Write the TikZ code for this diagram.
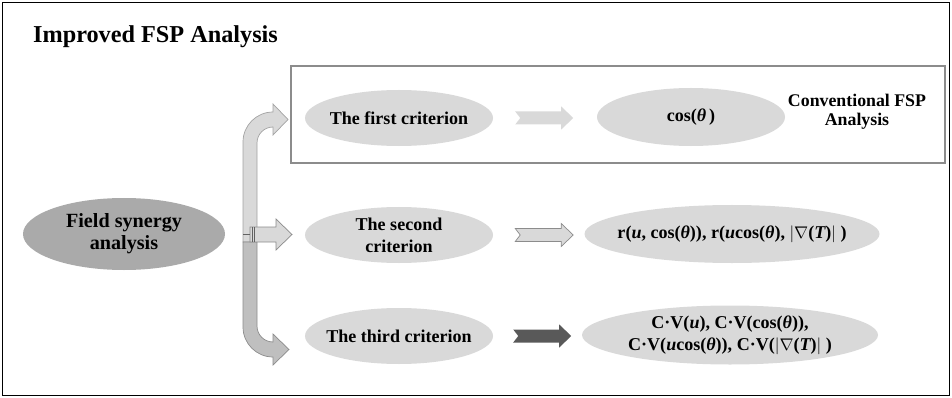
\documentclass[tikz,border=0pt]{standalone}
\usepackage{fontspec}
\setmainfont{Liberation Serif}
\usepackage{tikz}
\usetikzlibrary{shapes.geometric,calc}

\definecolor{lightfill}{HTML}{D9D9D9}
\definecolor{midfill}{HTML}{BFBFBF}
\definecolor{darkfill}{HTML}{AAAAAA}
\definecolor{arrowdark}{HTML}{595959}
\definecolor{edgegray}{HTML}{8C8C8C}

% block arrow with notched tail, pointing right
\newcommand{\blockarrow}[2]{%
  \path[#1] (#2) ++(0,-6.5) -- ++(46,0) -- ++(0,-5) -- ++(12,11.5) -- ++(-12,11.5)
    -- ++(0,-5) -- ++(-46,0) -- ++(5,-6.5) -- cycle;}

\begin{document}
\begin{tikzpicture}[x=0.03cm,y=-0.03cm,
  bubble/.style={ellipse, fill=lightfill, inner xsep=-20pt, inner ysep=-8pt,
    align=center, font=\fontsize{15.4}{18.8}\selectfont\bfseries},
  crit/.style={bubble, minimum width=5.64cm, minimum height=1.68cm},
  result/.style={bubble, minimum height=1.74cm}]

	\useasboundingbox (0,0) rectangle (952,398);

	% frames

	\draw[line width=1pt] (2.5,2.5) rectangle (949.5,395.5);
	\draw[edgegray, line width=1.5pt] (291,66) rectangle (945,163);

	\node[anchor=base west, font=\fontsize{20.7}{24}\selectfont\bfseries] (title) at (29,43) {Improved FSP Analysis};

	% nodes

	\node[bubble, fill=darkfill, minimum width=6.06cm, minimum height=2.16cm,
	      font=\fontsize{17.2}{18.8}\selectfont\bfseries] (fsa) at (124,234) {Field synergy\\analysis};

	\node[crit] (crit1) at (399,118) {The first criterion};
	\node[crit] (crit2) at (399,235) {The second\\criterion};
	\node[crit] (crit3) at (399,336) {The third criterion};

	\node[result, minimum width=5.64cm] (res1) at (691,117) {cos({\itshape θ}\,)};
	\node[result, minimum width=8.85cm] (res2) at (732,234)
	  {r({\itshape u}, cos({\itshape θ})), r({\itshape u}cos({\itshape θ}), $|\nabla$({\itshape T})$|$ )};
	\node[result, minimum width=8.88cm, minimum height=1.77cm] (res3) at (730,335)
	  {C·V({\itshape u}), C·V(cos({\itshape θ})),\\C·V({\itshape u}cos({\itshape θ})), C·V($|\nabla$({\itshape T})$|$ )};

	\node[align=center, font=\fontsize{15.2}{16.5}\selectfont\bfseries] (conv) at (857,112) {Conventional FSP\\Analysis};

	% bracket arrow

	\path[fill=lightfill, draw=edgegray!80, line width=0.6pt]
	  (243,242) -- (243,142) arc (180:270:30) -- (273,104) -- (288,119.5) -- (273,135)
	  -- (273,127) arc (270:180:16) -- (257,242) -- cycle;
	\path[fill=midfill, draw=edgegray, line width=0.6pt]
	  (243,242) -- (243,327) arc (180:90:30) -- (273,365) -- (289,349.5) -- (273,334)
	  -- (273,342) arc (90:180:16) -- (257,242) -- cycle;
	\path[fill=lightfill, draw=edgegray, line width=0.6pt]
	  (250,227) -- (276,227) -- (276,219) -- (292,234.5) -- (276,250) -- (276,242) -- (250,242) -- cycle;
	\draw[edgegray!70!black, line width=0.5pt] (252,227) -- (252,242) (254.5,227) -- (254.5,242) (243,234.5) -- (250,234.5);

	% block arrows

	\blockarrow{fill=lightfill}{$(crit1.east)+(22,0)$}
	\blockarrow{fill=lightfill, draw=edgegray, line width=0.6pt}{$(crit2.east)+(22,0)$}
	\blockarrow{fill=arrowdark}{$(crit3.east)+(20,0)$}

\end{tikzpicture}
\end{document}
